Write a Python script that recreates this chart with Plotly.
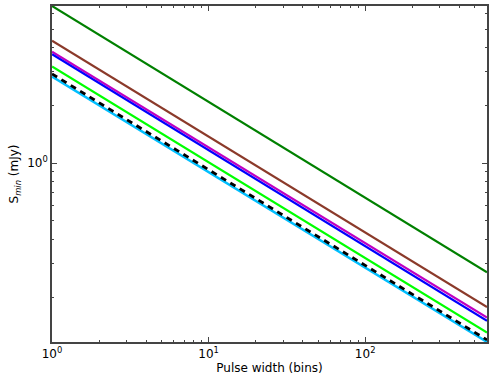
import plotly.graph_objects as go

# pulse widths (bins) at the two ends of each curve
widths = [1, 600]

# S_min (mJy) read at w=1 and w=600
green_s = [6.6, 0.270]
brown_s = [4.35, 0.178]
magenta_s = [3.81, 0.157]
blue_s = [3.70, 0.151]
lime_s = [3.19, 0.131]
cyan_s = [2.83, 0.117]
black_s = [2.92, 0.120]

x_major = [1, 10, 100]
x_major_text = ["10<sup>0</sup>", "10<sup>1</sup>", "10<sup>2</sup>"]
x_minor = [2, 3, 4, 5, 6, 7, 8, 9, 20, 30, 40, 50, 60, 70, 80, 90, 200, 300, 400, 500]
y_major = [1]
y_major_text = ["10<sup>0</sup>"]
y_minor = [0.2, 0.3, 0.4, 0.5, 0.6, 0.7, 0.8, 0.9, 2, 3, 4, 5, 6]

fig = go.Figure()

series = [
    (green_s, "#008000", "solid", 2.2),
    (brown_s, "#8B3A2A", "solid", 2.2),
    (magenta_s, "#C000C0", "solid", 2.2),
    (blue_s, "#0000FF", "solid", 2.2),
    (lime_s, "#00FF00", "solid", 2.2),
    (cyan_s, "#00BFFF", "solid", 2.5),
    (black_s, "#000000", "6px,5px", 2.8),
]
for vals, col, dash, w in series:
    fig.add_trace(go.Scatter(x=widths, y=vals, mode="lines",
                             line=dict(color=col, width=w, dash=dash),
                             showlegend=False))

axis_common = dict(
    type="log", showgrid=False, zeroline=False, automargin=False,
    showline=True, linecolor="#444", linewidth=1.5, mirror="allticks",
    ticks="inside", ticklen=5, tickcolor="#444", tickwidth=1,
    tickfont=dict(family="DejaVu Sans", size=12, color="black"),
)

fig.update_xaxes(**axis_common, range=[0, 2.778],
                 tickvals=x_major, ticktext=x_major_text,
                 minor=dict(tickvals=x_minor, ticks="inside", ticklen=2.5, tickcolor="#444"),
                 title=dict(text="Pulse width (bins)", standoff=2,
                            font=dict(family="DejaVu Sans", size=12, color="black")))
fig.update_yaxes(**axis_common, range=[-0.932, 0.8195],
                 tickvals=y_major, ticktext=y_major_text,
                 minor=dict(tickvals=y_minor, ticks="inside", ticklen=2.5, tickcolor="#444"),
                 title=dict(text="S<sub><i>min</i></sub> (mJy)", standoff=6,
                            font=dict(family="DejaVu Sans", size=12, color="black")))

fig.update_layout(
    width=493, height=382,
    margin=dict(l=52, r=6, t=6, b=40),
    paper_bgcolor="white", plot_bgcolor="white",
)

# drop the page's default body margin so the figure sits at the window's corner
fig.write_html("out.html", config={"displayModeBar": False},
               post_script="document.body.style.margin='0';")
